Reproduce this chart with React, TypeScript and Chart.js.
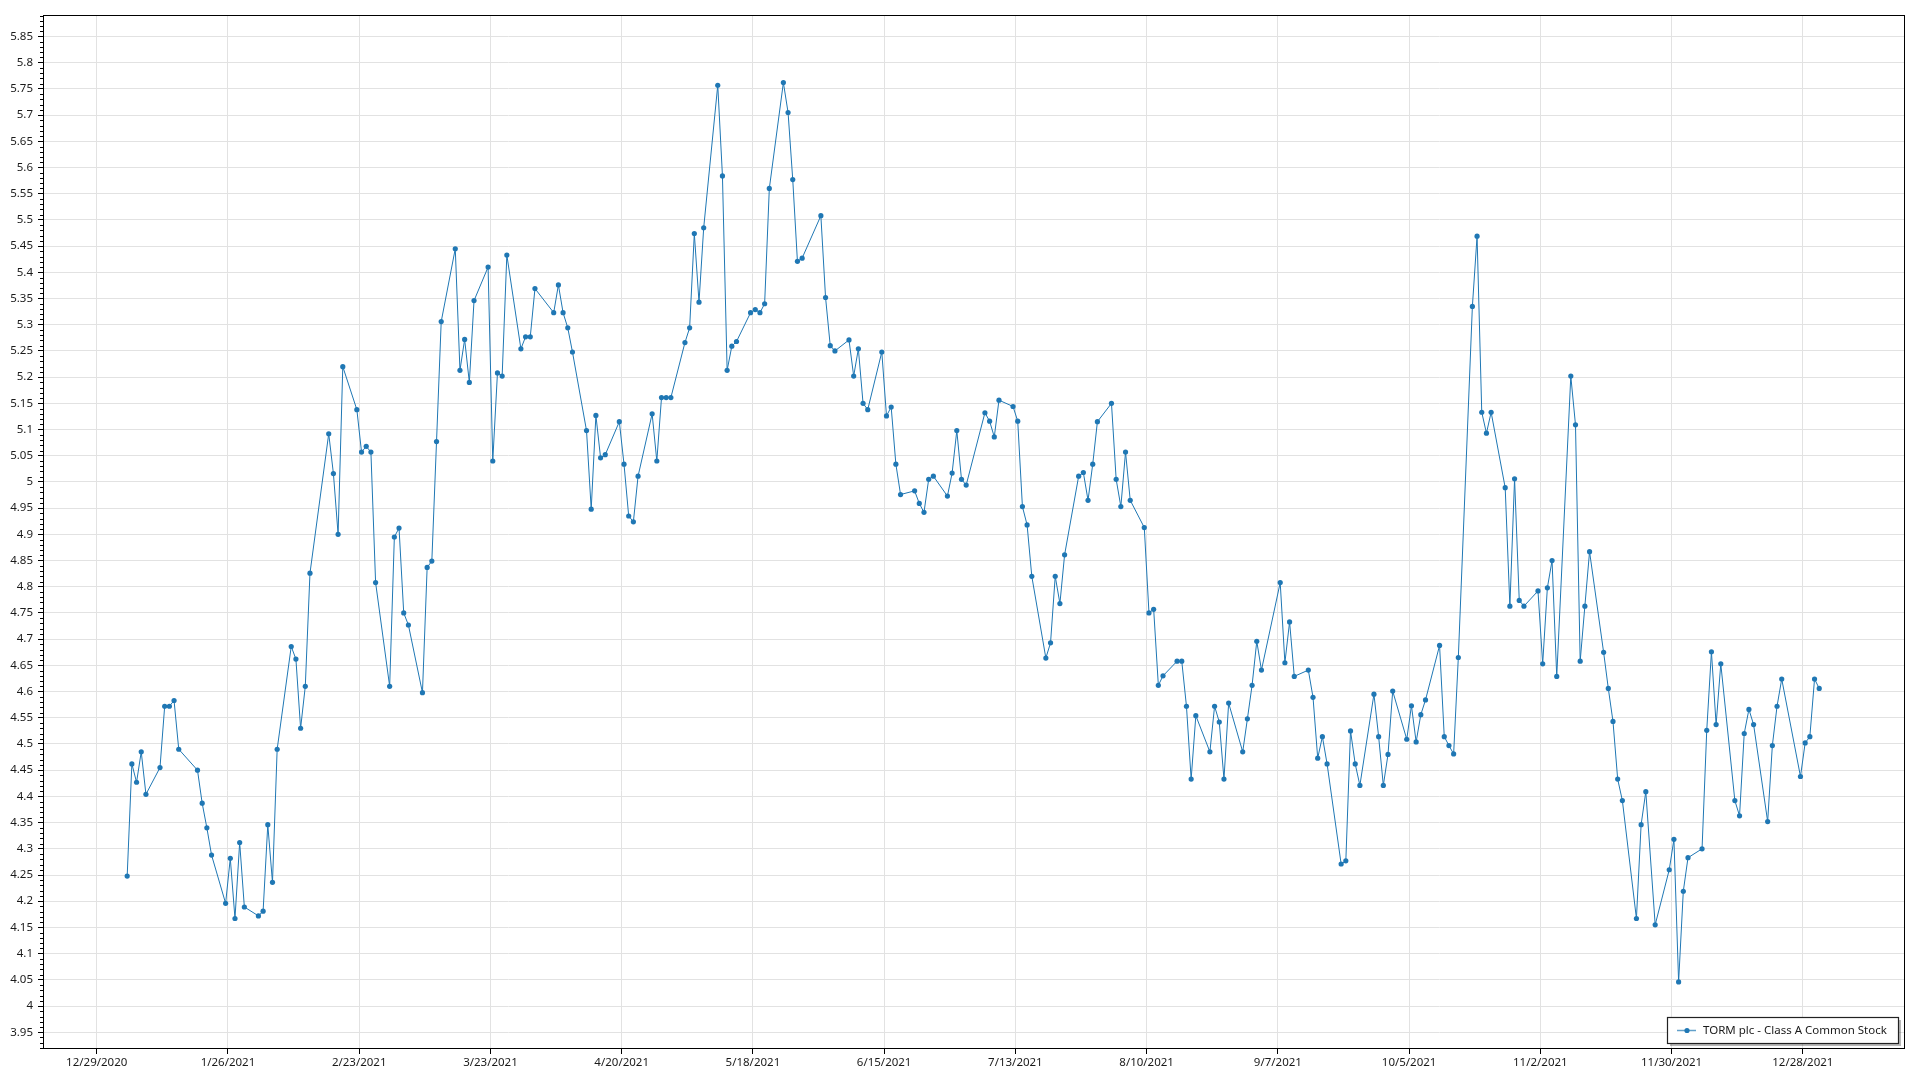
import React, { useEffect, useRef } from "react";
import { Chart, registerables } from "chart.js";

Chart.register(...registerables);

const seriesName = "TORM plc - Class A Common Stock";
const dataYear = 2021;

// Trading days (day of month) and closing prices, month by month
const janDays = [4, 5, 6, 7, 8, 11, 12, 13, 14, 15, 19, 20, 21, 22, 25, 26, 27, 28, 29];
const janClose = [4.248, 4.462, 4.427, 4.485, 4.404, 4.455, 4.572, 4.572, 4.583, 4.49, 4.45, 4.387, 4.34, 4.288, 4.196, 4.282, 4.167, 4.312, 4.189];
const febDays = [1, 2, 3, 4, 5, 8, 9, 10, 11, 12, 16, 17, 18, 19, 22, 23, 24, 25, 26];
const febClose = [4.172, 4.181, 4.346, 4.236, 4.49, 4.686, 4.662, 4.53, 4.61, 4.826, 5.092, 5.016, 4.9, 5.22, 5.138, 5.057, 5.068, 5.057, 4.808];
const marDays = [1, 2, 3, 4, 5, 8, 9, 10, 11, 12, 15, 16, 17, 18, 19, 22, 23, 24, 25, 26, 29, 30, 31];
const marClose = [4.61, 4.895, 4.912, 4.75, 4.727, 4.598, 4.837, 4.849, 5.077, 5.306, 5.445, 5.213, 5.272, 5.19, 5.346, 5.41, 5.04, 5.208, 5.202, 5.433, 5.254, 5.277, 5.277];
const aprDays = [1, 5, 6, 7, 8, 9, 12, 13, 14, 15, 16, 19, 20, 21, 22, 23, 26, 27, 28, 29, 30];
const aprClose = [5.369, 5.323, 5.376, 5.323, 5.294, 5.248, 5.098, 4.948, 5.127, 5.046, 5.052, 5.115, 5.034, 4.935, 4.924, 5.011, 5.13, 5.04, 5.161, 5.161, 5.161];
const mayDays = [3, 4, 5, 6, 7, 10, 11, 12, 13, 14, 17, 18, 19, 20, 21, 24, 25, 26, 27, 28];
const mayClose = [5.266, 5.294, 5.474, 5.343, 5.485, 5.757, 5.584, 5.213, 5.259, 5.268, 5.323, 5.329, 5.323, 5.34, 5.56, 5.762, 5.705, 5.577, 5.421, 5.427];
const junDays = [1, 2, 3, 4, 7, 8, 9, 10, 11, 14, 15, 16, 17, 18, 21, 22, 23, 24, 25, 28, 29, 30];
const junClose = [5.508, 5.352, 5.26, 5.25, 5.271, 5.202, 5.254, 5.15, 5.138, 5.248, 5.126, 5.143, 5.034, 4.976, 4.983, 4.959, 4.942, 5.005, 5.011, 4.973, 5.017, 5.098];
const julDays = [1, 2, 6, 7, 8, 9, 12, 13, 14, 15, 16, 19, 20, 21, 22, 23, 26, 27, 28, 29, 30];
const julClose = [5.005, 4.994, 5.132, 5.116, 5.086, 5.156, 5.144, 5.116, 4.953, 4.918, 4.82, 4.664, 4.693, 4.82, 4.768, 4.861, 5.011, 5.018, 4.965, 5.034, 5.115];
const augDays = [2, 3, 4, 5, 6, 9, 10, 11, 12, 13, 16, 17, 18, 19, 20, 23, 24, 25, 26, 27, 30, 31];
const augClose = [5.15, 5.005, 4.953, 5.057, 4.965, 4.913, 4.75, 4.757, 4.612, 4.63, 4.658, 4.658, 4.572, 4.433, 4.554, 4.485, 4.572, 4.542, 4.433, 4.578, 4.485, 4.548];
const sepDays = [1, 2, 3, 7, 8, 9, 10, 13, 14, 15, 16, 17, 20, 21, 22, 23, 24, 27, 28, 29, 30];
const sepClose = [4.612, 4.696, 4.641, 4.808, 4.655, 4.733, 4.629, 4.641, 4.589, 4.473, 4.514, 4.462, 4.271, 4.277, 4.525, 4.462, 4.421, 4.595, 4.514, 4.421, 4.48];
const octDays = [1, 4, 5, 6, 7, 8, 11, 12, 13, 14, 15, 18, 19, 20, 21, 22, 25, 26, 27, 28, 29];
const octClose = [4.601, 4.509, 4.573, 4.504, 4.556, 4.584, 4.688, 4.514, 4.497, 4.481, 4.665, 5.335, 5.469, 5.133, 5.093, 5.133, 4.989, 4.763, 5.006, 4.774, 4.763];
const novDays = [1, 2, 3, 4, 5, 8, 9, 10, 11, 12, 15, 16, 17, 18, 19, 22, 23, 24, 26, 29, 30];
const novClose = [4.792, 4.653, 4.798, 4.85, 4.629, 5.202, 5.109, 4.658, 4.763, 4.867, 4.675, 4.606, 4.543, 4.433, 4.392, 4.167, 4.346, 4.409, 4.155, 4.26, 4.318];
const decDays = [1, 2, 3, 6, 7, 8, 9, 10, 13, 14, 15, 16, 17, 20, 21, 22, 23, 27, 28, 29, 30, 31];
const decClose = [4.046, 4.219, 4.283, 4.3, 4.526, 4.676, 4.537, 4.653, 4.392, 4.363, 4.52, 4.566, 4.537, 4.352, 4.497, 4.572, 4.624, 4.438, 4.502, 4.514, 4.624, 4.606];

const monthDays = [janDays, febDays, marDays, aprDays, mayDays, junDays, julDays, augDays, sepDays, octDays, novDays, decDays];
const monthClose = [janClose, febClose, marClose, aprClose, mayClose, junClose, julClose, augClose, sepClose, octClose, novClose, decClose];

const xTickLabels = [
  "12/29/2020", "1/26/2021", "2/23/2021", "3/23/2021", "4/20/2021", "5/18/2021", "6/15/2021",
  "7/13/2021", "8/10/2021", "9/7/2021", "10/5/2021", "11/2/2021", "11/30/2021", "12/28/2021",
];
const yTickStart = 3.95;
const yTickEnd = 5.85;
const yTickStep = 0.05;

// axis range (days from the first tick date / price)
const xMinDays = -11.46;
const xMaxDays = 385.8;
const yMin = 3.918;
const yMax = 5.891;

const lineColor = "#1f77b4";
const gridColor = "#e2e2e2";
const textColor = "#1a1a1a";
const fontFamily = "'Noto Sans', 'Open Sans', sans-serif";

const DAY = 86400000;
const originMs = Date.UTC(2020, 11, 29);
const toDays = (y: number, m: number, d: number, hour = 0) => (Date.UTC(y, m - 1, d, hour) - originMs) / DAY;
const parseLabel = (s: string) => {
  const [m, d, y] = s.split("/").map(Number);
  return toDays(y, m, d);
};

export default function App() {
  const ref = useRef<HTMLCanvasElement | null>(null);

  useEffect(() => {
    if (!ref.current) return;
    const points: { x: number; y: number }[] = [];
    monthDays.forEach((days, mi) => {
      days.forEach((d, i) => {
        points.push({ x: toDays(dataYear, mi + 1, d, 12), y: monthClose[mi][i] });
      });
    });
    const xTickValues = xTickLabels.map(parseLabel);
    const yTickValues: number[] = [];
    for (let i = Math.round(yTickStart / yTickStep); i <= Math.round(yTickEnd / yTickStep); i++) {
      yTickValues.push(Number((i * yTickStep).toFixed(2)));
    }

    const framePlugin = {
      id: "frameAndLegend",
      afterDraw(chart: any) {
        const { ctx, chartArea: a, scales } = chart;
        const ys = scales.y;
        ctx.save();
        // minor ticks on the y axis
        ctx.strokeStyle = "#000";
        ctx.lineWidth = 1;
        for (let i = Math.ceil(yMin * 100); i <= Math.floor(yMax * 100); i++) {
          if (i % 5 === 0) continue;
          const py = Math.round(ys.getPixelForValue(i / 100)) + 0.5;
          ctx.beginPath();
          ctx.moveTo(a.left - 3, py);
          ctx.lineTo(a.left, py);
          ctx.stroke();
        }
        // plot frame
        ctx.strokeRect(Math.round(a.left) + 0.5, Math.round(a.top) + 0.5, Math.round(a.right - a.left) - 1, Math.round(a.bottom - a.top) - 1);

        // legend box (bottom-right inside plot)
        const bw = 231;
        const bh = 26;
        const bx = Math.round(a.right) - 238;
        const by = Math.round(a.bottom) - 32;
        ctx.fillStyle = "rgba(0,0,0,0.28)";
        ctx.fillRect(bx + 3, by + 3, bw, bh);
        ctx.fillStyle = "#fff";
        ctx.fillRect(bx, by, bw, bh);
        ctx.strokeStyle = "#222";
        ctx.lineWidth = 1.2;
        ctx.strokeRect(bx + 0.5, by + 0.5, bw, bh);
        const my = by + bh / 2 + 0.5;
        ctx.strokeStyle = lineColor;
        ctx.lineWidth = 1.5;
        ctx.globalAlpha = 0.7;
        ctx.beginPath();
        ctx.moveTo(bx + 10, my);
        ctx.lineTo(bx + 29, my);
        ctx.stroke();
        ctx.globalAlpha = 1;
        ctx.fillStyle = lineColor;
        ctx.beginPath();
        ctx.arc(bx + 20, my, 2.6, 0, Math.PI * 2);
        ctx.fill();
        ctx.fillStyle = textColor;
        ctx.font = `11.5px ${fontFamily}`;
        ctx.textBaseline = "middle";
        ctx.textAlign = "left";
        ctx.fillText(seriesName, bx + 36, my);
        ctx.restore();
      },
    };

    const chart = new Chart(ref.current, {
      type: "line",
      data: {
        datasets: [
          {
            label: seriesName,
            data: points,
            borderColor: lineColor,
            backgroundColor: lineColor,
            borderWidth: 1,
            pointRadius: 2.6,
            pointBorderWidth: 0,
            pointBackgroundColor: lineColor,
            pointBorderColor: lineColor,
            tension: 0,
          },
        ],
      },
      options: {
        animation: false,
        responsive: false,
        devicePixelRatio: 1,
        layout: { padding: { top: 15, right: 15, left: 0, bottom: 0 } },
        plugins: { legend: { display: false }, tooltip: { enabled: false } },
        scales: {
          x: {
            type: "linear",
            min: xMinDays,
            max: xMaxDays,
            afterBuildTicks: (s: any) => {
              s.ticks = xTickValues.map((v) => ({ value: v }));
            },
            afterFit: (s: any) => {
              s.height = 31;
            },
            ticks: {
              autoSkip: false,
              maxRotation: 0,
              padding: 2,
              color: textColor,
              font: { family: fontFamily, size: 11.5 },
              callback: (_v: any, i: number) => xTickLabels[i],
            },
            grid: { color: gridColor, tickColor: "#000", tickLength: 5, drawTicks: true },
            border: { display: false },
          },
          y: {
            type: "linear",
            min: yMin,
            max: yMax,
            afterBuildTicks: (s: any) => {
              s.ticks = yTickValues.map((v) => ({ value: v }));
            },
            afterFit: (s: any) => {
              s.width = 43;
            },
            ticks: {
              autoSkip: false,
              padding: 5,
              color: textColor,
              font: { family: fontFamily, size: 11.5 },
              callback: (v: any) => String(Number(Number(v).toFixed(2))),
            },
            grid: { color: gridColor, tickColor: "#000", tickLength: 5, drawTicks: true },
            border: { display: false },
          },
        },
      },
      plugins: [framePlugin],
    } as any);
    return () => chart.destroy();
  }, []);

  return (
    <canvas
      ref={ref}
      width={1920}
      height={1080}
      style={{ position: "fixed", left: 0, top: 0, width: 1920, height: 1080, background: "#fff" }}
    />
  );
}
